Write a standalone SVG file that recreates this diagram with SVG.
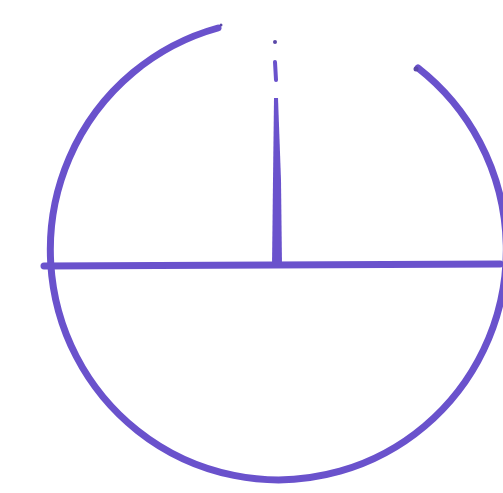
<svg xmlns="http://www.w3.org/2000/svg" width="503" height="493" viewBox="0 0 503 493">
<style>
.ink{fill:none;stroke:#6a52cc;stroke-linecap:round;stroke-linejoin:round}
.dot{fill:#5a48a8}
</style>
<rect width="503" height="493" fill="#ffffff"/>
<g id="symbol">
<path class="ink" stroke-width="7" d="M418,68 A228,230 0 1 1 218,28"/>
<path class="ink" stroke-width="7" d="M44,266 L500,264"/>
<polygon fill="#6a52cc" points="274,98 278,98 281,180 282,266 272,266 273,180"/>
<path class="ink" stroke-width="4" d="M275,62 L276,80"/>
<circle class="dot" cx="275" cy="42" r="2"/>
<circle class="dot" cx="221" cy="25" r="1.5"/>
<circle class="dot" cx="416" cy="69" r="2.5"/>
</g>
</svg>
